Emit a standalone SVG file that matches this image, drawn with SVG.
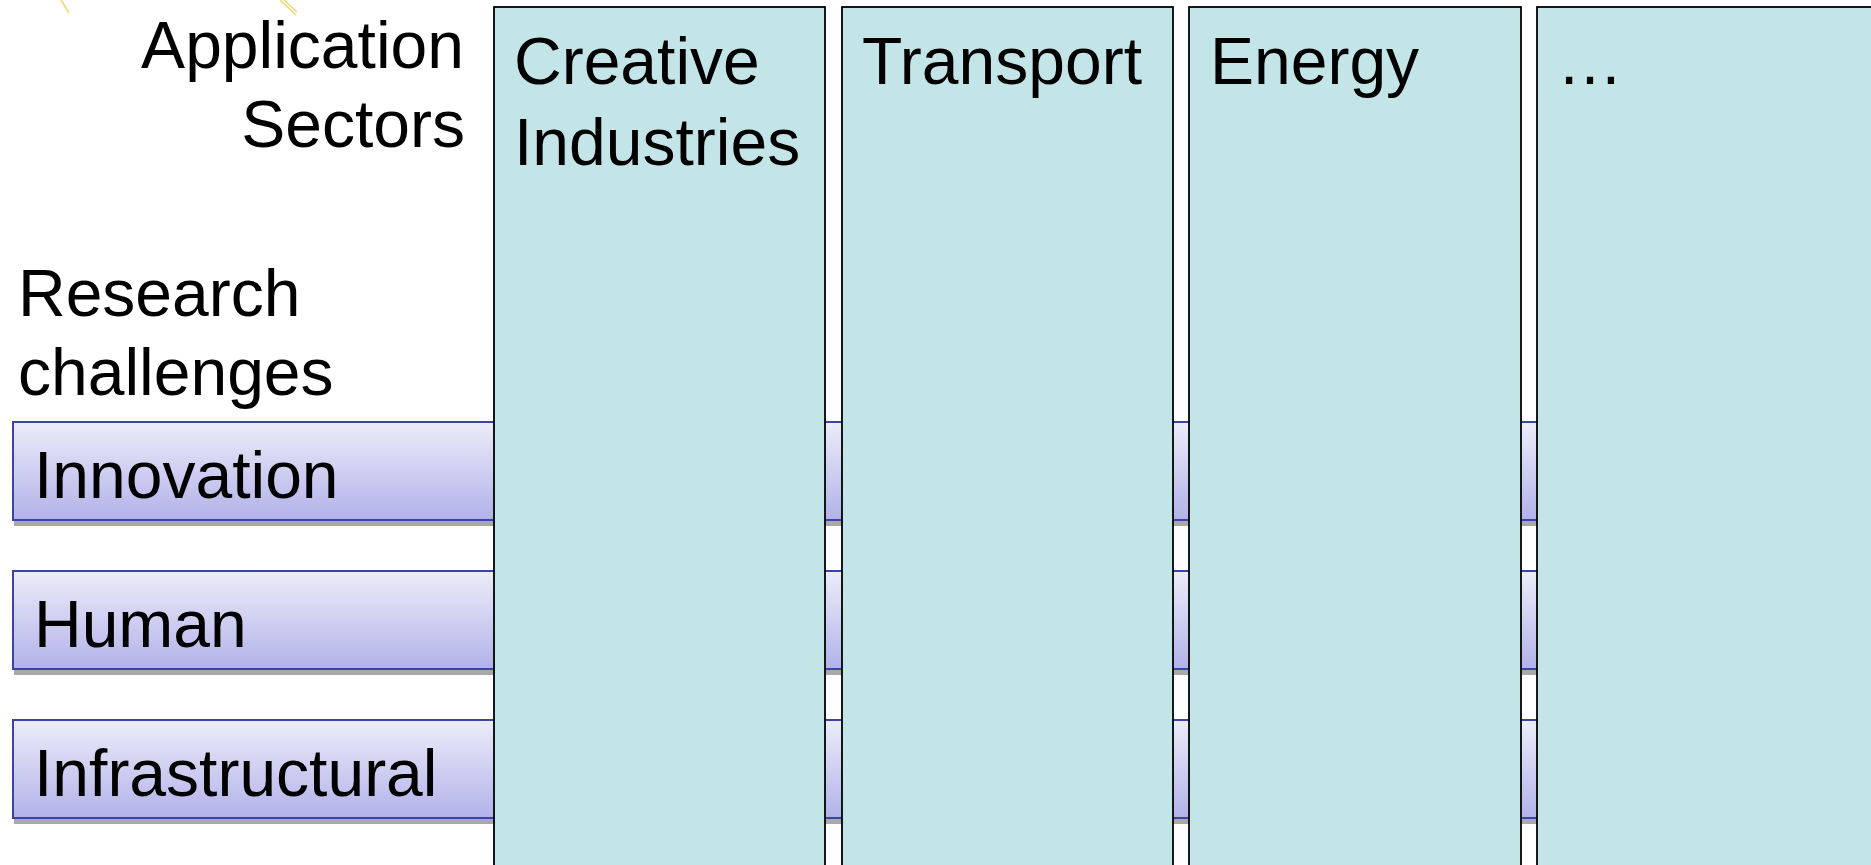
<svg xmlns="http://www.w3.org/2000/svg" width="1871" height="865" viewBox="0 0 1871 865">
<defs>
<linearGradient id="barGrad" x1="0" y1="0" x2="0" y2="1">
<stop offset="0" stop-color="#ececf9"/>
<stop offset="1" stop-color="#b2b2ea"/>
</linearGradient>
<style>
text{font-family:"Liberation Sans",Arial,sans-serif;font-size:66px;fill:#000}
.shadow{fill:#8c8c8c;opacity:0.75}
.bar{fill:url(#barGrad);stroke:#3a43a6;stroke-width:2}
.col{fill:#c4e5e7;stroke:#000;stroke-width:1.8}
.deco{stroke:#eed870;stroke-width:1.5;fill:none}
</style>
</defs>
<rect width="1871" height="865" fill="#fff"/>
<g id="decoration">
<line class="deco" x1="61" y1="0" x2="69" y2="13"/>
<line class="deco" x1="280" y1="0" x2="296" y2="15"/>
<line class="deco" x1="284" y1="0" x2="297" y2="12"/>
</g>
<g id="label-application-sectors">
<text x="464" y="68" text-anchor="end">Application</text>
<text x="465" y="147" text-anchor="end">Sectors</text>
</g>
<g id="label-research-challenges">
<text x="18" y="316">Research</text>
<text x="18" y="395">challenges</text>
</g>
<g id="bar-innovation">
<rect class="shadow" x="14" y="425" width="1850" height="101"/>
<rect class="bar" x="13" y="422" width="1850" height="98"/>
<text x="34" y="498">Innovation</text>
</g>
<g id="bar-human">
<rect class="shadow" x="14" y="574" width="1850" height="101"/>
<rect class="bar" x="13" y="571" width="1850" height="98"/>
<text x="34" y="647">Human</text>
</g>
<g id="bar-infrastructural">
<rect class="shadow" x="14" y="723" width="1850" height="101"/>
<rect class="bar" x="13" y="720" width="1850" height="98"/>
<text x="34" y="796">Infrastructural</text>
</g>
<g id="col-creative">
<rect class="col" x="494" y="7" width="331" height="870"/>
<text x="514" y="84">Creative</text>
<text x="514" y="165">Industries</text>
</g>
<g id="col-transport">
<rect class="col" x="842" y="7" width="331" height="870"/>
<text x="862" y="84">Transport</text>
</g>
<g id="col-energy">
<rect class="col" x="1189" y="7" width="332" height="870"/>
<text x="1210" y="84">Energy</text>
</g>
<g id="col-more">
<rect class="col" x="1537" y="7" width="340" height="870"/>
<text x="1557" y="84">…</text>
</g>
<g id="connectors"></g>
</svg>
